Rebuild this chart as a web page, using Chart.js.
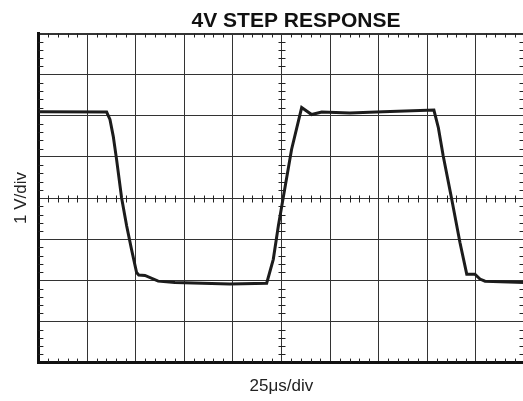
<!DOCTYPE html>
<html>
<head>
<meta charset="utf-8">
<script src="https://cdn.jsdelivr.net/npm/chart.js@4.4.1/dist/chart.umd.min.js"></script>
<style>
  html, body { margin: 0; padding: 0; background: #fff; overflow: hidden; }
  #wrap { position: relative; width: 530px; height: 401px; }
</style>
</head>
<body>
<div id="wrap"><canvas id="scope" width="530" height="401"></canvas></div>
<script>
const titleText = '4V STEP RESPONSE';
const xLabel = '25\u03bcs/div';
const yLabel = '1 V/div';

// trace: time in µs, level in V (25 µs/div, 1 V/div)
const timeUs = [0, 35.1, 36.8, 38.5, 40.2, 42.8, 45.4, 47.9, 50.5, 51.6, 54.8, 61.6, 70.2, 98.5,
  117.4, 120.8, 123.4, 125.9, 130.2, 135.4, 140.5, 145.7, 160.2, 177.2, 203.4, 205.7, 208.2,
  212.5, 216.8, 220.3, 224.5, 227.1, 229.7, 250];
const volts = [2.1, 2.09, 1.91, 1.5, 0.94, 0.0, -0.68, -1.25, -1.81, -1.87, -1.88, -2.02, -2.05, -2.09,
  -2.07, -1.49, -0.68, 0.01, 1.18, 2.2, 2.03, 2.09, 2.07, 2.1, 2.14, 1.71, 1.02,
  -0.01, -1.08, -1.85, -1.85, -1.97, -2.02, -2.05];

const xMin = 0, xMax = 250, xStep = 25;
const yMin = -4, yMax = 4, yStep = 1;
const minorPerDiv = 5;

const fontFamily = "'Liberation Sans', Arial, sans-serif";
const ink = '#1c1c1c';

// minor graticule ticks on the edges and on the centre cross, plus the title
const scopeMarks = {
  id: 'scopeMarks',
  beforeDatasetsDraw(chart) {
    const { ctx, chartArea: a, scales: { x, y } } = chart;
    const cx = Math.round(x.getPixelForValue((xMin + xMax) / 2)) + 0.5;
    const cy = Math.round(y.getPixelForValue((yMin + yMax) / 2)) + 0.5;
    ctx.save();
    ctx.strokeStyle = '#222';
    ctx.lineWidth = 1;
    ctx.beginPath();
    const nx = (xMax - xMin) / xStep * minorPerDiv;
    for (let i = 1; i < nx; i++) {
      if (i % minorPerDiv === 0) continue;
      const px = Math.round(x.getPixelForValue(xMin + i * xStep / minorPerDiv)) + 0.5;
      ctx.moveTo(px, a.top); ctx.lineTo(px, a.top + 4);
      ctx.moveTo(px, a.bottom); ctx.lineTo(px, a.bottom - 4);
      ctx.moveTo(px, cy - 3); ctx.lineTo(px, cy + 4);
    }
    const ny = (yMax - yMin) / yStep * minorPerDiv;
    for (let j = 1; j < ny; j++) {
      if (j % minorPerDiv === 0) continue;
      const py = Math.round(y.getPixelForValue(yMin + j * yStep / minorPerDiv)) + 0.5;
      ctx.moveTo(a.left, py); ctx.lineTo(a.left + 5, py);
      ctx.moveTo(a.right, py); ctx.lineTo(a.right - 5, py);
      ctx.moveTo(cx - 3, py); ctx.lineTo(cx + 4, py);
    }
    ctx.stroke();
    ctx.restore();
  },
  afterDraw(chart) {
    const ctx = chart.ctx;
    ctx.save();
    ctx.fillStyle = '#111';
    ctx.font = 'bold 21px ' + fontFamily;
    ctx.textAlign = 'center';
    ctx.textBaseline = 'alphabetic';
    ctx.fillText(titleText, 296, 27);
    ctx.restore();
  }
};

new Chart(document.getElementById('scope'), {
  type: 'line',
  data: {
    datasets: [{
      data: timeUs.map((t, i) => ({ x: t, y: volts[i] })),
      borderColor: ink,
      borderWidth: 3,
      pointRadius: 0,
      tension: 0,
      fill: false
    }]
  },
  options: {
    responsive: false,
    devicePixelRatio: 1,
    animation: false,
    layout: { padding: { left: 7, top: 33.5, right: 5.5, bottom: 0 } },
    plugins: { legend: { display: false }, tooltip: { enabled: false } },
    scales: {
      x: {
        type: 'linear',
        min: xMin, max: xMax,
        ticks: { display: false, stepSize: xStep },
        grid: { color: '#333', lineWidth: 1, drawTicks: false },
        border: { display: true, color: '#111', width: 3 },
        title: {
          display: true, text: xLabel, color: '#222',
          font: { family: fontFamily, size: 17 },
          padding: { top: 14, bottom: 4 }
        }
      },
      y: {
        min: yMin, max: yMax,
        ticks: { display: false, stepSize: yStep },
        grid: {
          color: '#333',
          lineWidth: c => (c.tick && c.tick.value === yMax ? 2 : 1),
          drawTicks: false
        },
        border: { display: true, color: '#111', width: 3 },
        title: {
          display: true, text: yLabel, color: '#222',
          font: { family: fontFamily, size: 17 },
          padding: { top: 4, bottom: 7 }
        }
      }
    }
  },
  plugins: [scopeMarks]
});
</script>
</body>
</html>
